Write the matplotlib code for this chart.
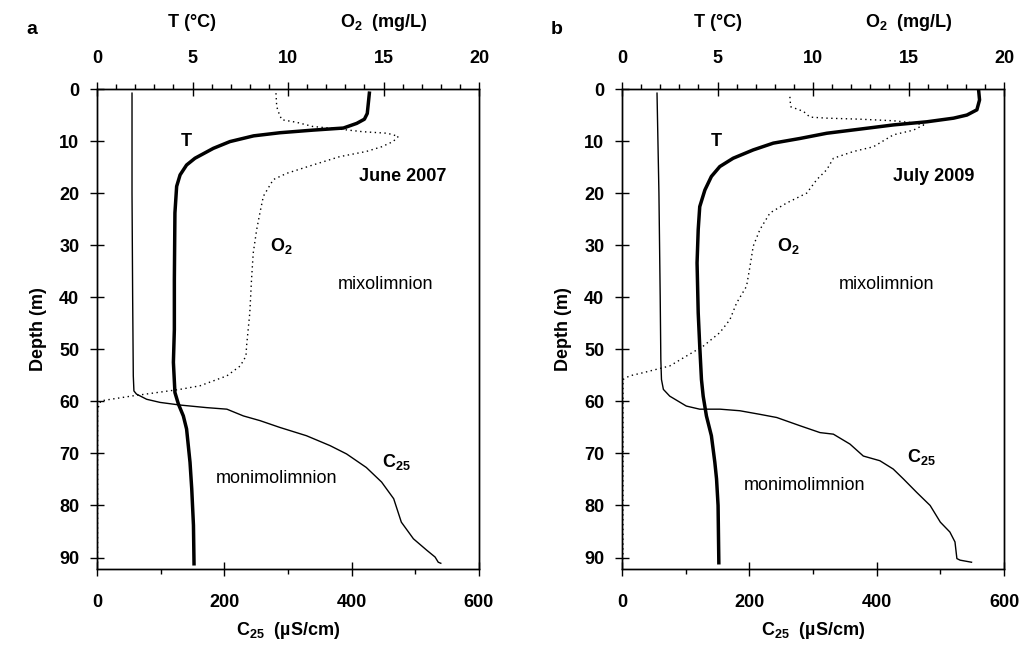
import matplotlib
matplotlib.use("Agg")
import matplotlib.pyplot as plt
import matplotlib.transforms as mtransforms

plt.rcParams['font.family'] = ['Liberation Sans', 'DejaVu Sans']
plt.rcParams['font.weight'] = 'bold'
plt.rcParams['mathtext.default'] = 'regular'

# ---- panel a: June 2007 ----
a_T_depth = [0.8, 4.7, 5.8, 6.6, 7.5, 7.9, 8.4, 9.0, 10.1, 11.4, 13.3, 14.6, 16.5, 18.7, 23.8, 36.6, 46.2,
             52.5, 58.3, 60.5, 62.8, 65.3, 71.7, 76.8, 83.8, 91.2]
a_T = [14.26, 14.15, 14.0, 13.6, 12.9, 11.3, 9.58, 8.2, 6.96, 6.09, 5.13, 4.69, 4.35, 4.17, 4.08, 4.05, 4.05,
       4.0, 4.08, 4.26, 4.52, 4.69, 4.87, 4.96, 5.05, 5.08]

a_O2_depth = [0.8, 3.4, 4.7, 5.9, 6.4, 7.2, 7.7, 8.2, 8.5, 9.1, 10.1, 11.1, 12.0, 13.0, 14.6, 16.2, 17.4,
              20.6, 23.8, 27.0, 31.5, 36.6, 43.0, 49.4, 51.3, 53.2, 55.1, 57.0, 57.7, 59.0, 59.9, 61.5, 91.0]
a_O2 = [9.37, 9.41, 9.53, 9.67, 10.45, 11.3, 12.7, 13.9, 15.2, 15.78, 15.5, 14.9, 14.1, 12.7, 11.3, 9.93, 9.23,
        8.71, 8.53, 8.36, 8.18, 8.09, 8.0, 7.83, 7.8, 7.5, 6.8, 5.4, 4.34, 1.77, 0.2, 0.03, 0.03]

a_C_depth = [0.8, 20.0, 40.0, 55.1, 58.0, 58.6, 59.6, 60.2, 60.7, 61.2, 61.5, 62.8, 63.7, 65.0, 66.6, 68.5,
             70.1, 72.7, 75.5, 78.7, 83.2, 86.4, 88.6, 89.9, 90.9, 91.1]
a_C = [55, 55, 56, 57, 58, 62, 78, 99, 130, 172, 204, 230, 256, 287, 329, 366,
       392, 423, 447, 466, 478, 497, 518, 531, 536, 540]

# ---- panel b: July 2009 ----
b_T_depth = [0.2, 2.1, 4.0, 5.0, 5.6, 6.3, 6.9, 7.7, 8.5, 9.5, 10.4, 11.7, 13.3, 14.9, 16.8, 19.4, 22.6,
             27.0, 33.4, 43.0, 49.4, 55.8, 59.0, 62.8, 66.6, 71.7, 74.9, 80.0, 91.0]
b_T = [18.67, 18.72, 18.58, 18.06, 17.36, 15.96, 14.21, 12.47, 10.72, 9.32, 7.92, 6.87, 5.82, 5.12, 4.68, 4.34, 4.07,
       3.99, 3.93, 3.99, 4.07, 4.16, 4.25, 4.42, 4.68, 4.86, 4.95, 5.03, 5.07]

b_O2_depth = [1.5, 3.4, 4.3, 5.4, 5.6, 5.8, 6.1, 6.5, 6.9, 7.9, 8.8, 11.1, 12.0, 13.3, 15.5, 17.4, 20.0,
              21.9, 23.8, 27.0, 30.2, 34.1, 37.9, 41.1, 44.3, 46.8, 49.4, 51.3, 53.2, 54.5, 55.1, 55.8, 91.0]
b_O2 = [8.79, 8.83, 9.5, 9.84, 10.72, 12.47, 14.21, 15.26, 15.79, 15.26, 14.21, 13.16, 12.12, 11.07, 10.72, 10.2, 9.67,
        8.62, 7.75, 7.22, 6.87, 6.7, 6.52, 6.0, 5.65, 5.12, 4.25, 3.37, 2.5, 1.1, 0.4, 0.05, 0.05]

b_C_depth = [0.8, 20.0, 40.0, 52.0, 55.8, 57.7, 59.0, 60.9, 61.5, 61.5, 61.8, 62.5, 63.1, 64.7, 66.0, 66.3,
             68.2, 70.5, 71.4, 73.0, 74.9, 77.5, 80.0, 83.2, 85.1, 87.0, 90.2, 90.5, 90.9]
b_C = [55, 58, 60, 61, 62, 65, 75, 101, 122, 154, 185, 217, 243, 280, 311, 332,
       358, 379, 405, 426, 442, 463, 484, 500, 515, 523, 526, 531, 549]

panels = [
    dict(letter="a", date="June 2007", T=(a_T, a_T_depth), O2=(a_O2, a_O2_depth), C=(a_C, a_C_depth),
         T_lab=(4.7, 10.1), O2_lab=(9.67, 30.2), date_lab=(16.0, 16.8), mixo=(15.1, 37.6),
         moni=(9.4, 74.9), C_lab=(15.7, 71.6), left=97),
    dict(letter="b", date="July 2009", T=(b_T, b_T_depth), O2=(b_O2, b_O2_depth), C=(b_C, b_C_depth),
         T_lab=(4.95, 10.1), O2_lab=(8.7, 30.2), date_lab=(16.3, 16.8), mixo=(13.86, 37.6),
         moni=(9.58, 76.2), C_lab=(15.7, 70.7), left=622),
]

W, H = 1024, 646
fig = plt.figure(figsize=(W / 100, H / 100), dpi=100)
fs = 13

for p in panels:
    ax = fig.add_axes([p["left"] / W, 1 - 569 / H, 382 / W, (569 - 89) / H])
    top = ax.twiny()

    ax.plot(p["C"][0], p["C"][1], color="black", lw=1.0)
    top.plot(p["T"][0], p["T"][1], color="black", lw=2.5)
    top.plot(p["O2"][0], p["O2"][1], color="black", lw=1.0, linestyle=(0, (1, 2.5)))

    ax.set_xlim(0, 600)
    top.set_xlim(0, 20)
    ax.set_ylim(92.2, 0)
    ax.set_xticks([0, 200, 400, 600])
    ax.set_xticks([100, 300, 500], minor=True)
    top.set_xticks([0, 5, 10, 15, 20])
    top.set_xticks(range(0, 21), minor=True)
    ax.set_yticks(range(0, 91, 10))

    for a in (ax, top):
        a.tick_params(which="major", direction="inout", length=9.5, width=1, labelsize=fs)
        a.tick_params(which="minor", direction="out", length=3.5, width=1)
        for s in a.spines.values():
            s.set_linewidth(1)
    ax.tick_params(axis="x", which="major", pad=13)
    ax.tick_params(axis="y", which="major", pad=8)
    top.tick_params(axis="x", which="major", pad=11)
    for lab in ax.get_xticklabels() + ax.get_yticklabels() + top.get_xticklabels():
        lab.set_fontweight("bold")

    ax.set_ylabel("Depth (m)", fontsize=fs, fontweight="bold", labelpad=9)
    ax.set_xlabel("C$_{25}$  (µS/cm)", fontsize=fs, fontweight="bold", labelpad=7)

    tr = mtransforms.blended_transform_factory(top.transData, top.transAxes)
    top.text(5, 1.138, "T (°C)", transform=tr, ha="center", va="center", fontsize=fs, fontweight="bold")
    top.text(15, 1.138, "O$_2$  (mg/L)", transform=tr, ha="center", va="center", fontsize=fs, fontweight="bold")

    top.text(*p["T_lab"], "T", ha="center", va="center", fontsize=fs, fontweight="bold")
    top.text(*p["O2_lab"], "O$_2$", ha="center", va="center", fontsize=fs, fontweight="bold")
    top.text(*p["date_lab"], p["date"], ha="center", va="center", fontsize=fs, fontweight="bold")
    top.text(*p["C_lab"], "C$_{25}$", ha="center", va="center", fontsize=fs, fontweight="bold")
    top.text(*p["mixo"], "mixolimnion", ha="center", va="center", fontsize=fs, fontweight="normal")
    top.text(*p["moni"], "monimolimnion", ha="center", va="center", fontsize=fs, fontweight="normal")

    fig.text((p["left"] - 65) / W, 1 - 29 / H, p["letter"], ha="center", va="center",
             fontsize=fs + 1, fontweight="bold")

fig.savefig("out.png", dpi=100)
